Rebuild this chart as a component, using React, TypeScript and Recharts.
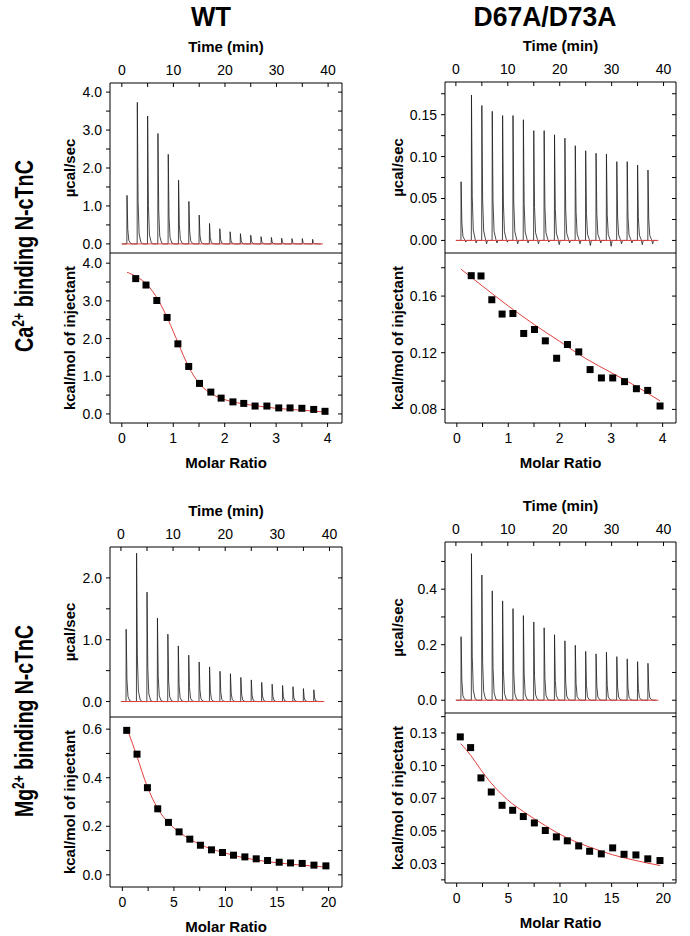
import { LineChart, ComposedChart, Line, Scatter, XAxis, YAxis, ZAxis } from "recharts";

// ---- data ----
const INJECTION_TIMES = [1, 3, 5, 7, 9, 11, 13, 15, 17, 19, 21, 23, 25, 27, 29, 31, 33, 35, 37];

// WT, Ca2+
const WT_CA_PEAKS = [1.28, 3.73, 3.37, 2.91, 2.36, 1.68, 1.12, 0.76, 0.54, 0.4, 0.32, 0.27, 0.23, 0.19, 0.17, 0.15, 0.14, 0.14, 0.12];
const WT_CA_RATIO = [0.27, 0.47, 0.68, 0.88, 1.09, 1.3, 1.51, 1.73, 1.93, 2.16, 2.37, 2.59, 2.82, 3.05, 3.27, 3.5, 3.73, 3.95];
const WT_CA_HEAT = [3.59, 3.42, 3.01, 2.56, 1.86, 1.26, 0.81, 0.58, 0.42, 0.32, 0.28, 0.21, 0.21, 0.16, 0.16, 0.15, 0.12, 0.07];
const WT_CA_FIT_X = [0.1, 0.3, 0.5, 0.7, 0.9, 1.0, 1.1, 1.2, 1.3, 1.4, 1.5, 1.7, 1.9, 2.1, 2.4, 2.7, 3.0, 3.5, 3.95];
const WT_CA_FIT_Y = [3.76, 3.63, 3.42, 3.04, 2.5, 2.19, 1.86, 1.54, 1.25, 1.01, 0.82, 0.57, 0.43, 0.34, 0.26, 0.2, 0.15, 0.1, 0.05];

// D67A/D73A, Ca2+
const MUT_CA_PEAKS = [0.07, 0.1735, 0.161, 0.154, 0.149, 0.149, 0.144, 0.131, 0.131, 0.126, 0.122, 0.113, 0.107, 0.104, 0.103, 0.094, 0.094, 0.09, 0.084];
const MUT_CA_DIPS = [-0.002, -0.003, -0.004, -0.003, -0.002, -0.004, -0.003, -0.004, -0.002, -0.005, -0.003, -0.004, -0.006, -0.003, -0.007, -0.004, -0.003, -0.005, -0.004];
const MUT_CA_RATIO = [0.28, 0.47, 0.68, 0.88, 1.09, 1.3, 1.51, 1.72, 1.94, 2.15, 2.37, 2.59, 2.81, 3.03, 3.26, 3.49, 3.71, 3.95];
const MUT_CA_HEAT = [0.1744, 0.1742, 0.1574, 0.1473, 0.1477, 0.1336, 0.1364, 0.1284, 0.1161, 0.1258, 0.1206, 0.1081, 0.1022, 0.1022, 0.0996, 0.0946, 0.0934, 0.0824];
const MUT_CA_FIT_X = [0.08, 0.5, 1.0, 1.5, 2.0, 2.5, 3.0, 3.5, 3.95];
const MUT_CA_FIT_Y = [0.179, 0.167, 0.153, 0.14, 0.128, 0.116, 0.106, 0.096, 0.086];

// WT, Mg2+
const WT_MG_PEAKS = [1.17, 2.4, 1.77, 1.35, 1.09, 0.9, 0.75, 0.64, 0.56, 0.49, 0.45, 0.39, 0.35, 0.31, 0.28, 0.26, 0.24, 0.21, 0.19];
const WT_MG_RATIO = [0.42, 1.42, 2.43, 3.43, 4.47, 5.5, 6.54, 7.57, 8.64, 9.71, 10.78, 11.88, 12.98, 14.08, 15.21, 16.31, 17.44, 18.58, 19.74];
const WT_MG_HEAT = [0.595, 0.497, 0.359, 0.272, 0.216, 0.177, 0.147, 0.122, 0.103, 0.092, 0.081, 0.074, 0.066, 0.059, 0.052, 0.049, 0.047, 0.04, 0.037];
const WT_MG_FIT_X = [0.58, 1.4, 2.4, 3.4, 4.5, 5.5, 6.5, 7.5, 8.6, 9.7, 10.8, 12, 13, 14, 15.2, 16.3, 17.4, 18.6, 19.74];
const WT_MG_FIT_Y = [0.588, 0.49, 0.365, 0.275, 0.213, 0.176, 0.148, 0.126, 0.107, 0.093, 0.08, 0.069, 0.061, 0.055, 0.049, 0.044, 0.04, 0.036, 0.032];

// D67A/D73A, Mg2+
const MUT_MG_PEAKS = [0.229, 0.528, 0.451, 0.394, 0.358, 0.33, 0.305, 0.282, 0.261, 0.236, 0.214, 0.198, 0.176, 0.167, 0.173, 0.157, 0.149, 0.139, 0.133];
const MUT_MG_RATIO = [0.35, 1.35, 2.35, 3.35, 4.39, 5.42, 6.45, 7.52, 8.58, 9.65, 10.71, 11.81, 12.87, 14.0, 15.1, 16.2, 17.35, 18.5, 19.68];
const MUT_MG_HEAT = [0.122, 0.1138, 0.0906, 0.0798, 0.0696, 0.0658, 0.061, 0.0561, 0.0503, 0.0454, 0.0424, 0.0385, 0.0344, 0.0324, 0.037, 0.0321, 0.0316, 0.0286, 0.0273];
const MUT_MG_FIT_X = [0.39, 1.35, 2.35, 3.35, 4.4, 5.4, 6.45, 7.5, 8.6, 9.65, 10.7, 11.8, 12.9, 14.0, 15.1, 16.2, 17.35, 18.5, 19.7];
const MUT_MG_FIT_Y = [0.1168, 0.108, 0.0967, 0.0865, 0.0777, 0.0707, 0.0649, 0.0593, 0.054, 0.0489, 0.0446, 0.0408, 0.0375, 0.0345, 0.0317, 0.0294, 0.0273, 0.0253, 0.0235];

// ---- ticks ----
const TIME_MAJOR = [0, 10, 20, 30, 40];
const TIME_MINOR = [5, 15, 25, 35];
const RATIO4_MAJOR = [0, 1, 2, 3, 4];
const RATIO4_MINOR = [0.5, 1.5, 2.5, 3.5];
const RATIO20_MAJOR = [0, 5, 10, 15, 20];
const RATIO20_MINOR = [2.5, 7.5, 12.5, 17.5];

const RED = "#e0403c";
const AXIS_W = 60;
const TOP_AXIS_H = 50;
const BOTTOM_AXIS_H = 50;
const EDGE = 1; // size of the tick-only mirror axes on the right / top
const RIGHT_PAD = 7;
const FONT = "'Liberation Sans', Arial, Helvetica, sans-serif";

type Scale = { domain: [number, number]; major: number[]; minor: number[]; digits: number };
type Geo = { left: number; right: number; top: number; mid: number; bottom: number; ylab: number };

const tickList = (s: Scale) => [...s.major, ...s.minor].sort((a, b) => a - b);
const tickText = (s: Scale) => (v: number) => (s.major.includes(v) ? v.toFixed(s.digits) : "");
const blank = () => "";

// peak profile of one injection: [minutes after injection, fraction of peak height]
const PEAK_SHAPE = [[-0.03, 0], [0, 1], [0.15, 0.3], [0.35, 0.07], [0.7, 0.01]];

function buildTrace(peaks: number[], dips?: number[]) {
    const pts = [{ t: 0, p: 0 }];
    peaks.forEach((h, i) => {
        const t0 = INJECTION_TIMES[i];
        PEAK_SHAPE.forEach(([dt, f]) => pts.push({ t: t0 + dt, p: h * f }));
        if (dips) pts.push({ t: t0 + 0.9, p: dips[i] });
        pts.push({ t: t0 + 1.1, p: 0 });
    });
    pts.push({ t: 38.6, p: 0 });
    return pts;
}

const zip = (xs: number[], ys: number[]) => xs.map((x, i) => ({ x, y: ys[i] }));

interface PanelProps {
    g: Geo;
    time: Scale;
    power: Scale;
    ratio: Scale;
    heat: Scale;
    trace: { t: number; p: number }[];
    points: { x: number; y: number }[];
    fit: { x: number; y: number }[];
}

const tickStyle = { fontSize: 14, fill: "#000" };
const titleStyle = { fontSize: 15, fontWeight: "bold" as const, fill: "#000" };
const black = { stroke: "#000", strokeWidth: 1 };

function ItcPanel({ g, time, power, ratio, heat, trace, points, fit }: PanelProps) {
    const plotW = g.right - g.left;
    const topH = g.mid - g.top;
    const botH = g.bottom - g.mid;
    const w = AXIS_W + plotW + EDGE + RIGHT_PAD;
    const cx = AXIS_W + plotW / 2;

    const yTitle = (text: string, h: number, y0: number) => () => (
        <text x={g.ylab} y={y0 + h / 2} transform={`rotate(-90, ${g.ylab}, ${y0 + h / 2})`}
            textAnchor="middle" dominantBaseline="central" style={titleStyle}>{text}</text>
    );

    return (
        <>
            <div style={{ position: "absolute", left: g.left - AXIS_W, top: g.top - TOP_AXIS_H }}>
                <LineChart width={w} height={TOP_AXIS_H + topH} margin={{ top: 0, right: RIGHT_PAD, bottom: 0, left: 0 }}>
                    <XAxis xAxisId="t" orientation="top" type="number" dataKey="t" domain={time.domain} allowDataOverflow
                        ticks={tickList(time)} tickFormatter={tickText(time)} interval={0} height={TOP_AXIS_H}
                        tickSize={-4} tickMargin={12} axisLine={black} tickLine={black} tick={tickStyle}
                        label={() => <text x={cx} y={TOP_AXIS_H - 31.5} textAnchor="middle" style={titleStyle}>Time (min)</text>} />
                    <YAxis yAxisId="l" orientation="left" type="number" domain={power.domain} allowDataOverflow ticks={tickList(power)}
                        tickFormatter={tickText(power)} interval={0} width={AXIS_W} tickSize={4} tickMargin={4}
                        axisLine={black} tickLine={black} tick={tickStyle} label={yTitle("µcal/sec", topH, TOP_AXIS_H)} />
                    <YAxis yAxisId="r" orientation="right" type="number" domain={power.domain} allowDataOverflow
                        ticks={tickList(power)} tickFormatter={blank} interval={0} width={EDGE} tickSize={-4}
                        axisLine={black} tickLine={black} />
                    <Line xAxisId="t" yAxisId="l" data={trace} dataKey="p" type="linear" stroke="#1a1a1a"
                        strokeWidth={0.8} dot={false} isAnimationActive={false} />
                    <Line xAxisId="t" yAxisId="l" data={[{ t: 0, p: 0 }, { t: 39, p: 0 }]} dataKey="p" type="linear"
                        stroke={RED} strokeWidth={1} dot={false} isAnimationActive={false} />
                </LineChart>
            </div>
            <div style={{ position: "absolute", left: g.left - AXIS_W, top: g.mid - EDGE }}>
                <ComposedChart width={w} height={EDGE + botH + BOTTOM_AXIS_H} margin={{ top: 0, right: RIGHT_PAD, bottom: 0, left: 0 }}>
                    <XAxis xAxisId="top" orientation="top" type="number" domain={ratio.domain} allowDataOverflow
                        ticks={tickList(ratio)} tickFormatter={blank} interval={0} height={EDGE} tickSize={-4}
                        axisLine={black} tickLine={black} />
                    <XAxis xAxisId="b" orientation="bottom" type="number" dataKey="x" domain={ratio.domain} allowDataOverflow
                        ticks={tickList(ratio)} tickFormatter={tickText(ratio)} interval={0} height={BOTTOM_AXIS_H}
                        tickSize={4} tickMargin={6} axisLine={black} tickLine={black} tick={tickStyle}
                        label={() => <text x={cx} y={EDGE + botH + 44.5} textAnchor="middle" style={titleStyle}>Molar Ratio</text>} />
                    <YAxis yAxisId="l" orientation="left" type="number" dataKey="y" domain={heat.domain} allowDataOverflow ticks={tickList(heat)}
                        tickFormatter={tickText(heat)} interval={0} width={AXIS_W} tickSize={4} tickMargin={4}
                        axisLine={black} tickLine={black} tick={tickStyle} label={yTitle("kcal/mol of injectant", botH, EDGE)} />
                    <YAxis yAxisId="r" orientation="right" type="number" domain={heat.domain} allowDataOverflow
                        ticks={tickList(heat)} tickFormatter={blank} interval={0} width={EDGE} tickSize={-4}
                        axisLine={black} tickLine={black} />
                    <ZAxis range={[49, 49]} />
                    <Line xAxisId="b" yAxisId="l" data={fit} dataKey="y" type="monotone" stroke={RED} strokeWidth={1}
                        dot={false} isAnimationActive={false} />
                    <Scatter xAxisId="b" yAxisId="l" data={points} fill="#000" shape="square" isAnimationActive={false} />
                </ComposedChart>
            </div>
        </>
    );
}

const TIME_L: Scale = { domain: [-2.3, 42.7], major: TIME_MAJOR, minor: TIME_MINOR, digits: 0 };
const TIME_R: Scale = { domain: [-2.1, 42.4], major: TIME_MAJOR, minor: TIME_MINOR, digits: 0 };

export default function App() {
    return (
        <div style={{ position: "absolute", left: 0, top: 0, width: 690, height: 936, overflow: "hidden", background: "#fff", fontFamily: FONT }}>
            <svg width={690} height={936} style={{ position: "absolute", left: 0, top: 0 }}>
                <text x={211} y={26} textAnchor="middle" fontSize={28} fontWeight="bold" textLength={40} lengthAdjust="spacingAndGlyphs">WT</text>
                <text x={545} y={26} textAnchor="middle" fontSize={28} fontWeight="bold" textLength={143} lengthAdjust="spacingAndGlyphs">D67A/D73A</text>
                <text transform="translate(33,256) rotate(-90)" textAnchor="middle" fontSize={26} fontWeight="bold" textLength={192} lengthAdjust="spacingAndGlyphs">
                    Ca<tspan dy={-9} fontSize={16}>2+</tspan><tspan dy={9}> binding N-cTnC</tspan>
                </text>
                <text transform="translate(33,721) rotate(-90)" textAnchor="middle" fontSize={26} fontWeight="bold" textLength={192} lengthAdjust="spacingAndGlyphs">
                    Mg<tspan dy={-9} fontSize={16}>2+</tspan><tspan dy={9}> binding N-cTnC</tspan>
                </text>
            </svg>

            <ItcPanel
                g={{ left: 110, right: 342, top: 83, mid: 253, bottom: 423, ylab: 19 }}
                time={TIME_L}
                power={{ domain: [-0.24, 4.24], major: [0, 1, 2, 3, 4], minor: [0.5, 1.5, 2.5, 3.5], digits: 1 }}
                ratio={{ domain: [-0.23, 4.28], major: RATIO4_MAJOR, minor: RATIO4_MINOR, digits: 0 }}
                heat={{ domain: [-0.24, 4.27], major: [0, 1, 2, 3, 4], minor: [0.5, 1.5, 2.5, 3.5], digits: 1 }}
                trace={buildTrace(WT_CA_PEAKS)}
                points={zip(WT_CA_RATIO, WT_CA_HEAT)}
                fit={zip(WT_CA_FIT_X, WT_CA_FIT_Y)}
            />
            <ItcPanel
                g={{ left: 445, right: 676, top: 82, mid: 253, bottom: 423, ylab: 12 }}
                time={TIME_R}
                power={{ domain: [-0.015, 0.189], major: [0, 0.05, 0.1, 0.15], minor: [0.025, 0.075, 0.125, 0.175], digits: 2 }}
                ratio={{ domain: [-0.23, 4.26], major: RATIO4_MAJOR, minor: RATIO4_MINOR, digits: 0 }}
                heat={{ domain: [0.0704, 0.1904], major: [0.08, 0.12, 0.16], minor: [0.1, 0.14, 0.18], digits: 2 }}
                trace={buildTrace(MUT_CA_PEAKS, MUT_CA_DIPS)}
                points={zip(MUT_CA_RATIO, MUT_CA_HEAT)}
                fit={zip(MUT_CA_FIT_X, MUT_CA_FIT_Y)}
            />
            <ItcPanel
                g={{ left: 110, right: 342, top: 547, mid: 717, bottom: 887, ylab: 19 }}
                time={TIME_R}
                power={{ domain: [-0.25, 2.5], major: [0, 1, 2], minor: [0.5, 1.5], digits: 1 }}
                ratio={{ domain: [-1.2, 21.3], major: RATIO20_MAJOR, minor: RATIO20_MINOR, digits: 0 }}
                heat={{ domain: [-0.05, 0.65], major: [0, 0.2, 0.4, 0.6], minor: [0.1, 0.3, 0.5], digits: 1 }}
                trace={buildTrace(WT_MG_PEAKS)}
                points={zip(WT_MG_RATIO, WT_MG_HEAT)}
                fit={zip(WT_MG_FIT_X, WT_MG_FIT_Y)}
            />
            <ItcPanel
                g={{ left: 445, right: 676, top: 542, mid: 713, bottom: 883, ylab: 12 }}
                time={TIME_R}
                power={{ domain: [-0.046, 0.57], major: [0, 0.2, 0.4], minor: [0.1, 0.3, 0.5], digits: 1 }}
                ratio={{ domain: [-1.13, 21.23], major: RATIO20_MAJOR, minor: RATIO20_MINOR, digits: 0 }}
                heat={{ domain: [0.0101, 0.1403], major: [0.025, 0.05, 0.075, 0.1, 0.125], minor: [0.0125, 0.0375, 0.0625, 0.0875, 0.1125, 0.1375], digits: 2 }}
                trace={buildTrace(MUT_MG_PEAKS)}
                points={zip(MUT_MG_RATIO, MUT_MG_HEAT)}
                fit={zip(MUT_MG_FIT_X, MUT_MG_FIT_Y)}
            />
        </div>
    );
}
